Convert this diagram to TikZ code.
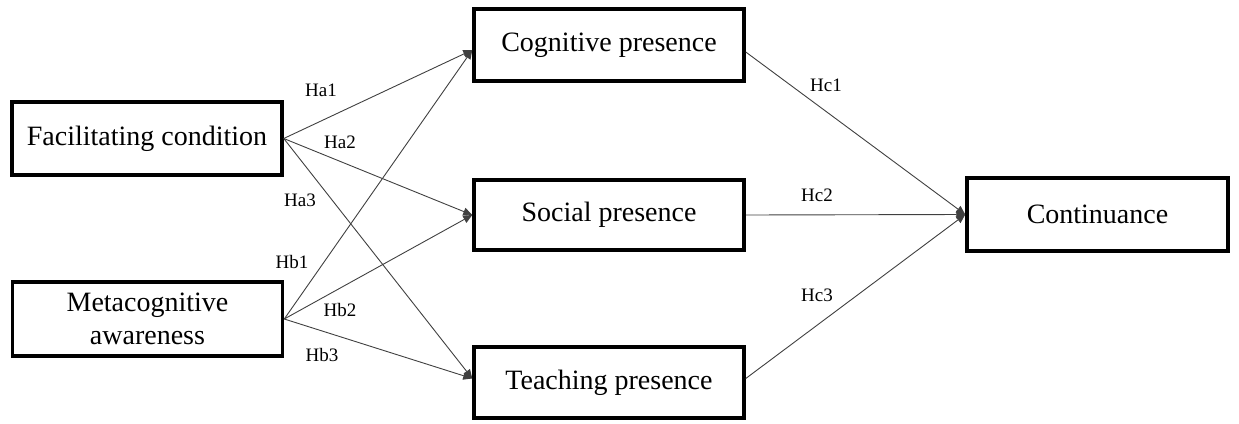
\documentclass[tikz,border=0pt]{standalone}
\usepackage{fontspec}
\setmainfont{Liberation Serif}
\usetikzlibrary{arrows.meta}
\begin{document}
\begin{tikzpicture}[x=1pt,y=-1pt,
 box/.style={draw, line width=3.5pt, minimum width=270pt, minimum height=72pt, align=center, font=\fontsize{28}{33}\selectfont, inner sep=0pt},
 arr/.style={-{Triangle[length=9pt,width=8pt]}, line width=0.9pt, draw=black!75},
 lab/.style={font=\fontsize{19}{22}\selectfont, inner sep=0pt}]
\useasboundingbox (0,0) rectangle (1239,423);
\node[box, minimum height=73pt] (fc) at (147,138.5) {Facilitating condition};
\node[box, minimum height=74pt] (ma) at (147.5,319) {Metacognitive\\awareness};
\node[box] (cp) at (609,45) {Cognitive presence};
\node[box, minimum height=70pt] (sp) at (609,215) {Social presence};
\node[box, minimum height=71pt] (tp) at (609,382.5) {Teaching presence};
\node[box, minimum width=261pt, minimum height=73pt] (co) at (1097.5,214.5) {Continuance};
\coordinate (cpin) at ([yshift=-5pt]cp.west);
\coordinate (tpin) at ([yshift=4pt]tp.west);
\draw[arr] (fc.east) -- (cpin);
\draw[arr] (fc.east) -- (sp.west);
\draw[arr] (fc.east) -- (tpin);
\draw[arr] (ma.east) -- (cpin);
\draw[arr] (ma.east) -- (sp.west);
\draw[arr] (ma.east) -- (tpin);
\draw[arr] ([yshift=-7pt]cp.east) -- (co.west);
\draw[arr] (sp.east) -- (co.west);
\draw[arr] ([yshift=4pt]tp.east) -- (co.west);
\node[lab] (ha1) at (321,90) {Ha1};
\node[lab] (ha2) at (340,142) {Ha2};
\node[lab] (ha3) at (300,200) {Ha3};
\node[lab] (hb1) at (292,262) {Hb1};
\node[lab] (hb2) at (340,310) {Hb2};
\node[lab] (hb3) at (322,355) {Hb3};
\node[lab] (hc1) at (826,85) {Hc1};
\node[lab] (hc2) at (817,195) {Hc2};
\node[lab] (hc3) at (817,295) {Hc3};
\end{tikzpicture}
\end{document}
